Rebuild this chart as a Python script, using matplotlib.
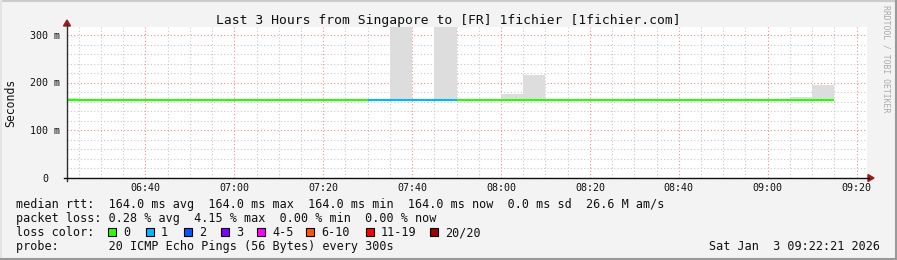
import numpy as np
import matplotlib
matplotlib.use('Agg')
import matplotlib.pyplot as plt
import matplotlib.patches as patches
import matplotlib.transforms as mtransforms
from matplotlib.lines import Line2D

# ---- data (5 minute bins, smokeping style) ----
bin_times = ['06:20', '06:25', '06:30', '06:35', '06:40', '06:45', '06:50',
             '06:55', '07:00', '07:05', '07:10', '07:15', '07:20', '07:25',
             '07:30', '07:35', '07:40', '07:45', '07:50', '07:55', '08:00',
             '08:05', '08:10', '08:15', '08:20', '08:25', '08:30', '08:35',
             '08:40', '08:45', '08:50', '08:55', '09:00', '09:05', '09:10']
median_ms = [164, 164, 164, 164, 164, 164, 164,
             164, 164, 164, 164, 164, 164, 164,
             164, 164, 164, 164, 164, 164, 164,
             164, 164, 164, 164, 164, 164, 164,
             164, 164, 164, 164, 164, 164, 164]
max_ms = [167, 164, 164, 164, 164, 164, 164,
          164, 164, 164, 164, 164, 164, 164,
          164, 400, 164, 400, 164, 164, 176,
          216, 164, 164, 164, 164, 164, 164,
          164, 164, 164, 164, 164, 170, 195]
loss = [0, 0, 0, 0, 0, 0, 0,
        0, 0, 0, 0, 0, 0, 0,
        1, 1, 1, 1, 0, 0, 0,
        0, 0, 0, 0, 0, 0, 0,
        0, 0, 0, 0, 0, 0, 0]

loss_labels = ['0', '1', '2', '3', '4-5', '6-10', '11-19', '20/20']
loss_colors = ['#26ff00', '#00b8ff', '#0059ff', '#7e00ff',
               '#ff00ff', '#ff5500', '#ff0000', '#a10000']

x_tick_labels = ['06:40', '07:00', '07:20', '07:40', '08:00', '08:20', '08:40', '09:00', '09:20']
y_ticks = [0, 100, 200, 300]
y_tick_labels = ['0', '100 m', '200 m', '300 m']

title = 'Last 3 Hours from Singapore to [FR] 1fichier [1fichier.com]'
row_rtt = 'median rtt:  164.0 ms avg  164.0 ms max  164.0 ms min  164.0 ms now  0.0 ms sd  26.6 M am/s'
row_loss = 'packet loss: 0.28 % avg  4.15 % max  0.00 % min  0.00 % now'
row_probe = 'probe:       20 ICMP Echo Pings (56 Bytes) every 300s'
stamp = 'Sat Jan  3 09:22:21 2026'
start_time = '06:22:21'


def to_min(s):
    p = [int(v) for v in s.split(':')]
    return p[0] * 60 + p[1] + (p[2] / 60 if len(p) > 2 else 0)


W, H = 897, 260
MONO = 'DejaVu Sans Mono'


def fx(px):
    return px / W


def fy(py):
    return 1 - py / H


fig = plt.figure(figsize=(W / 100, H / 100), dpi=100)
fig.patch.set_facecolor('#f3f3f3')

ax = fig.add_axes([fx(67), fy(178), 800 / W, 151 / H])
ax.set_facecolor('white')
t0 = to_min(start_time)
ax.set_xlim(t0, t0 + 180)
ax.set_ylim(0, 316.8)
for s in ax.spines.values():
    s.set_visible(False)

ax.set_xticks([to_min(t) for t in x_tick_labels])
ax.set_xticks(np.arange(385, 565, 5), minor=True)
ax.set_yticks(y_ticks)
ax.set_yticks(np.arange(0, 320, 20), minor=True)
ax.tick_params(which='both', length=0, labelbottom=False, labelleft=False)
ax.grid(which='minor', color='#c8c8c8', linestyle=(0, (1, 2)), linewidth=0.8)
ax.grid(which='major', color='#f08c8c', linestyle=(0, (1, 2)), linewidth=0.8)
ax.set_axisbelow(True)

starts = np.array([to_min(t) for t in bin_times])
med = np.array(median_ms, dtype=float)
mx = np.array(max_ms, dtype=float)

# smoke
ax.bar(starts, mx - med, bottom=med, width=5, align='edge',
       color='#dddddd', linewidth=0, zorder=2)
# median line coloured by loss
ax.hlines(med, starts, starts + 5, colors=[loss_colors[l] for l in loss],
          linewidth=1.5, zorder=3)

# axes lines and arrows
fig.add_artist(Line2D([fx(67), fx(67)], [fy(181), fy(24)], color='#303030', lw=1))
fig.add_artist(Line2D([fx(64), fx(869)], [fy(178), fy(178)], color='#101010', lw=1))
fig.add_artist(patches.Polygon([(fx(67), fy(20)), (fx(63.5), fy(26)), (fx(70.5), fy(26))],
                               closed=True, color='#9a1c1c', transform=fig.transFigure))
fig.add_artist(patches.Polygon([(fx(874), fy(178)), (fx(868), fy(174.5)), (fx(868), fy(181.5))],
                               closed=True, color='#9a1c1c', transform=fig.transFigure))

# tick labels
xt = mtransforms.blended_transform_factory(ax.transData, fig.transFigure)
for lab in x_tick_labels:
    ax.text(to_min(lab), fy(191), lab, transform=xt, ha='center', va='baseline',
            family=MONO, fontsize=7.2, color='#101010', clip_on=False)
yt = mtransforms.blended_transform_factory(fig.transFigure, ax.transData)
yt = mtransforms.offset_copy(yt, fig=fig, y=-3.6, units='dots')
for v, lab in zip(y_ticks, y_tick_labels):
    right = 60 if lab.endswith('m') else 48
    ax.text(fx(right), v, lab, transform=yt, ha='right', va='baseline',
            family=MONO, fontsize=7.2, color='#101010', clip_on=False)

# titles
fig.text(fx(448), fy(24), title, ha='center', va='baseline', family=MONO, fontsize=9.4, color='#101010')
fig.text(fx(11), fy(102.5), 'Seconds', rotation=90, ha='center', va='center',
         family=MONO, fontsize=8.3, color='#101010')
fig.text(fx(886), fy(59), 'RRDTOOL / TOBI OETIKER', rotation=270, ha='center', va='center',
         family=MONO, fontsize=5.9, color='#aaaaaa')

# legend rows
fs = 8.5
fig.text(fx(16), fy(208), row_rtt, ha='left', va='baseline', family=MONO, fontsize=fs, color='#101010')
fig.text(fx(16), fy(222), row_loss, ha='left', va='baseline', family=MONO, fontsize=fs, color='#101010')
fig.text(fx(16), fy(236), 'loss color:', ha='left', va='baseline', family=MONO, fontsize=fs, color='#101010')
fig.text(fx(16), fy(250), row_probe, ha='left', va='baseline', family=MONO, fontsize=fs, color='#101010')
fig.text(fx(880), fy(250), stamp, ha='right', va='baseline', family=MONO, fontsize=fs, color='#101010')

box_x = [108, 146, 184, 221, 257, 306, 366, 430]
for bx, lab, col in zip(box_x, loss_labels, loss_colors):
    fig.add_artist(patches.Rectangle((fx(bx), fy(236)), 8 / W, 8 / H, facecolor=col,
                                     edgecolor='black', linewidth=0.8, transform=fig.transFigure))
    fig.text(fx(bx + 15), fy(236), lab, ha='left', va='baseline', family=MONO, fontsize=fs, color='#101010')

# frame shading
fig.add_artist(Line2D([0, 1], [fy(1), fy(1)], color='#cbcbcb', lw=1.5))
fig.add_artist(Line2D([fx(1), fx(1)], [0, 1], color='#e4e4e4', lw=1.5))
fig.add_artist(Line2D([0, 1], [fy(259), fy(259)], color='#999999', lw=1.5))
fig.add_artist(Line2D([fx(896), fx(896)], [0, 1], color='#999999', lw=1.5))

plt.savefig('out.png', dpi=100, facecolor=fig.get_facecolor())
